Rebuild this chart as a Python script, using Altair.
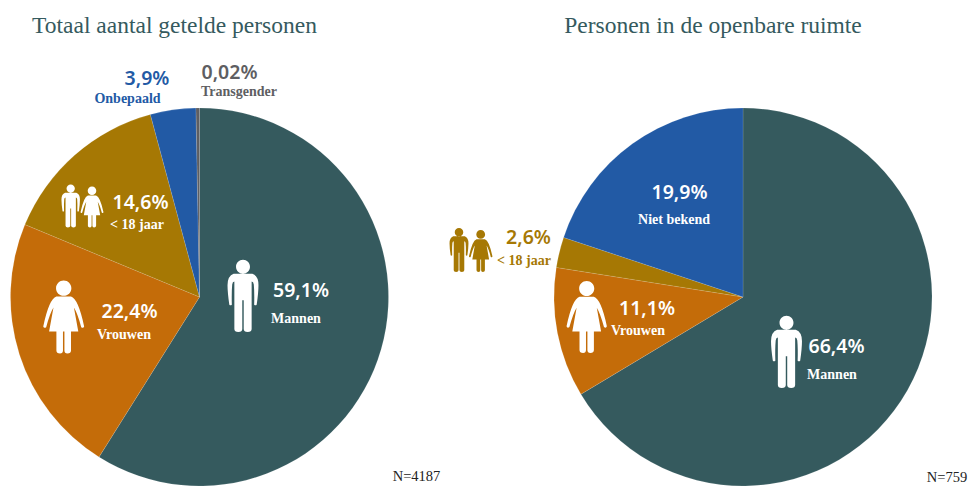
import altair as alt
import pandas as pd

cats_left = ["Mannen", "Vrouwen", "< 18 jaar", "Onbepaald", "Transgender"]
vals_left = [59.1, 22.4, 14.6, 3.9, 0.3]
cats_right = ["Mannen", "Vrouwen", "< 18 jaar", "Niet bekend"]
vals_right = [66.4, 11.1, 2.6, 19.9]
domain = ["Mannen", "Vrouwen", "< 18 jaar", "Onbepaald", "Niet bekend", "Transgender"]
colors = ["#355A5E", "#C46C09", "#A67804", "#225AA5", "#225AA5", "#5E5E62"]

W, H = 963, 478
OX, OY = 8, 8
PCT = "Noto Sans"
SERIF = "Liberation Serif"

MAN = ("M-.097,-.405a.097,.097 0 1,0 .194,0a.097,.097 0 1,0 -.194,0Z"
       "M-.13,-.31H.13Q.215,-.28 .215,-.15Q.215,-.05 .19,.12Q.175,.14 .155,.12Q.16,-.05 .15,-.16"
       "Q.145,-.2 .12,-.2V.46Q.12,.5 .065,.5Q.01,.5 .01,.46V.06H-.01V.46Q-.01,.5 -.065,.5Q-.12,.5 -.12,.46"
       "V-.2Q-.145,-.2 -.15,-.16Q-.16,-.05 -.155,.12Q-.175,.14 -.19,.12Q-.215,-.05 -.215,-.15Q-.215,-.28 -.13,-.31Z")
WOMAN = ("M-.105,-.395a.105,.105 0 1,0 .21,0a.105,.105 0 1,0 -.21,0Z"
         "M-.1,-.28H.1Q.2,-.25 .28,.13Q.27,.16 .24,.14Q.19,-.05 .14,-.13L.2,.2H.1V.46Q.1,.5 .05,.5Q.01,.5 .01,.46"
         "V.2H-.01V.46Q-.01,.5 -.05,.5Q-.1,.5 -.1,.46V.2H-.2L-.14,-.13Q-.19,-.05 -.24,.14Q-.27,.16 -.28,.13Q-.2,-.25 -.1,-.28Z")

WHITE, GOLD, BLUE, GREY, INK = "#FFFFFF", "#A67804", "#225AA5", "#5E5E62", "#355A5E"


def pie(cats, vals, cx, cy):
    df = pd.DataFrame({"cat": cats, "val": vals, "ord": range(len(cats))})
    return alt.Chart(df).mark_arc(outerRadius=189, stroke="#FFFFFF", strokeWidth=0.3, strokeOpacity=0.4).encode(
        theta=alt.Theta("val:Q", stack=True),
        order=alt.Order("ord:Q"),
        color=alt.Color("cat:N", scale=alt.Scale(domain=domain, range=colors), legend=None),
        x=alt.value(cx - OX),
        y=alt.value(cy - OY),
    )


def text(label, x, y, size, color, font, weight, align="center"):
    return alt.Chart(pd.DataFrame({"t": [label]})).mark_text(
        font=font, fontSize=size, fontWeight=weight, color=color, align=align, baseline="middle"
    ).encode(text="t:N", x=alt.value(x - OX), y=alt.value(y - OY))


def icon(path, x, y, h, color):
    return alt.Chart(pd.DataFrame({"a": [0]})).mark_point(
        shape=path, size=4 * h * h, filled=True, color=color, opacity=1, strokeWidth=0
    ).encode(x=alt.value(x - OX), y=alt.value(y - OY))


layers = [pie(cats_left, vals_left, 199.5, 297), pie(cats_right, vals_right, 743, 297)]

layers += [
    icon(MAN, 243, 296, 72, WHITE),
    icon(WOMAN, 63.7, 317, 73, WHITE),
    icon(MAN, 70.7, 206, 43, WHITE),
    icon(WOMAN, 92, 207, 41, WHITE),
    icon(MAN, 786.5, 352, 72, WHITE),
    icon(WOMAN, 586.7, 317, 72, WHITE),
    icon(MAN, 459, 250, 44, GOLD),
    icon(WOMAN, 480.7, 251, 42, GOLD),
]

pct = [
    ("3,9%", 147, 79, BLUE), ("0,02%", 229.5, 73, GREY), ("14,6%", 140.5, 203, WHITE),
    ("59,1%", 301, 291, WHITE), ("22,4%", 129.5, 312, WHITE), ("19,9%", 679.5, 193, WHITE),
    ("2,6%", 528.5, 238, GOLD), ("11,1%", 647, 309, WHITE), ("66,4%", 836.5, 347, WHITE),
]
sub = [
    ("Onbepaald", 127.5, 99, BLUE), ("Transgender", 239, 92, GREY), ("< 18 jaar", 137, 225, WHITE),
    ("Mannen", 296, 319, WHITE), ("Vrouwen", 124, 335, WHITE), ("Niet bekend", 674, 220, WHITE),
    ("< 18 jaar", 524, 261, GOLD), ("Vrouwen", 638, 331, WHITE), ("Mannen", 832, 375, WHITE),
]
layers += [text(t, x, y, 19.5, c, PCT, 600) for t, x, y, c in pct]
layers += [text(t, x, y, 14, c, SERIF, 700) for t, x, y, c in sub]

layers += [
    text("Totaal aantal getelde personen", 174.5, 26, 23.5, INK, SERIF, 400),
    text("Personen in de openbare ruimte", 713, 26, 23.5, INK, SERIF, 400),
    text("N=4187", 416.5, 477, 14.5, "#222222", SERIF, 400),
    text("N=759", 947, 478, 14.5, "#222222", SERIF, 400),
]

chart = alt.layer(*layers).resolve_scale(theta="independent").properties(
    width=W, height=H, padding=0, autosize=alt.AutoSizeParams(type="none")
).configure_view(stroke=None)

chart.save("out.html", embed_options={"renderer": "svg", "actions": False})
